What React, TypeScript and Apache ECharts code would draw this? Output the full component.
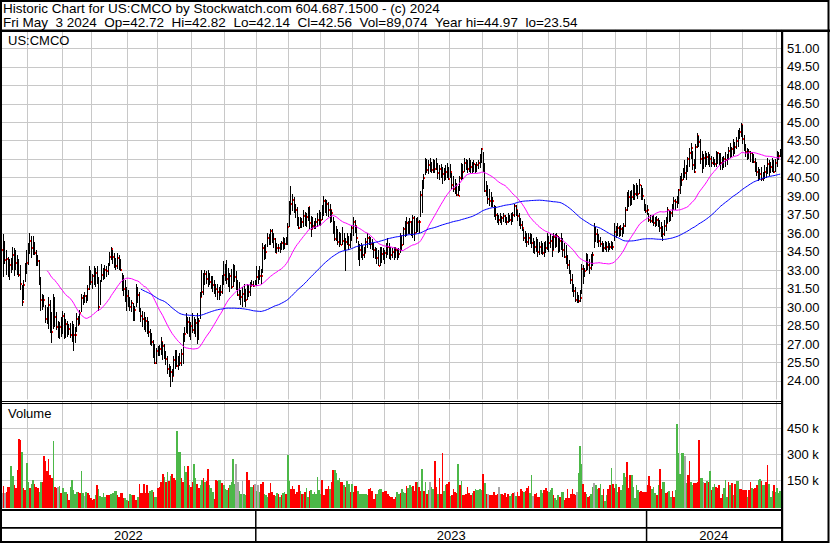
import React, { useEffect, useRef } from "react";
import * as echarts from "echarts";

// [high, low, close] per trading day
const bars2022: number[][] = [
[35.2,33.6,34.6],[35.9,32.4,34.8],[35.4,33.5,33.8],[34.6,32.6,33.9],[34.1,32.4,33.0],[33.9,32.2,33.4],[34.0,32.8,33.1],[34.9,33.0,34.2],[34.8,32.5,33.5],[34.6,33.0,33.6],
[34.2,32.6,33.4],[33.9,32.4,32.6],[33.4,31.4,31.9],[31.8,30.1,30.4],[32.2,30.6,31.8],[33.6,32.0,33.2],[34.6,32.7,33.6],[35.2,33.4,34.8],[36.0,34.3,35.4],[35.8,34.0,34.8],
[35.8,34.2,35.1],[35.3,34.2,34.4],[34.6,33.3,34.0],[34.2,33.3,33.7],[33.8,31.8,32.2],[32.4,29.7,30.6],[31.1,29.8,30.5],[31.0,30.0,30.6],[30.2,28.7,29.0],[30.0,28.6,28.7],
[30.8,28.2,30.2],[30.6,27.9,28.3],[29.6,27.1,28.0],[31.1,28.2,30.6],[30.8,28.4,29.2],[29.6,28.1,28.4],[28.9,27.5,28.6],[28.8,27.4,28.4],[29.2,27.6,28.0],[29.7,27.8,29.3],
[29.5,27.4,27.8],[29.0,27.5,28.6],[28.9,27.6,27.9],[28.6,27.7,28.2],[28.7,27.5,27.7],[28.9,27.2,28.5],[28.6,26.4,27.7],[28.4,27.1,27.7],[29.5,28.0,29.0],[29.3,28.5,28.6],
[29.8,28.6,29.5],[31.1,29.6,30.7],[31.0,30.2,30.6],[31.2,30.3,30.9],[31.0,30.3,30.6],[31.8,30.5,31.5],[33.3,31.4,32.8],[33.0,31.8,32.0],[32.7,31.5,32.5],[33.3,31.8,32.5],
[33.2,31.6,32.8],[33.3,31.9,32.3],[32.4,29.7,30.0],[32.2,30.2,32.1],[33.5,32.0,32.6],[33.2,32.2,32.4],[33.4,32.3,33.0],[33.3,32.4,32.9],[33.6,32.6,33.4],[34.5,33.3,34.1],
[34.9,33.8,34.7],[34.6,33.5,34.1],[34.4,33.2,33.5],[34.0,33.0,33.3],[34.4,33.1,34.0],[34.2,33.0,33.4],[33.9,32.9,33.0],[32.8,31.3,31.7],[32.6,30.9,31.5],[32.2,30.4,30.6],
[31.6,29.7,30.9],[31.4,30.0,30.6],[30.8,29.7,30.0],[30.6,29.6,30.3],[30.3,28.9,29.1],[30.1,28.9,29.8],[31.9,30.0,31.4],[31.6,30.3,31.0],[31.2,29.6,29.8],[29.9,28.8,29.3],
[29.7,28.4,29.0],[29.6,28.1,28.6],[29.2,28.0,28.9],[29.2,27.8,28.3],[28.9,27.6,28.0],[28.2,26.9,27.6],[27.9,26.8,27.2],[27.3,25.9,26.3],[27.0,25.4,25.5],[26.7,25.4,26.4],
[26.8,26.0,26.2],[26.9,26.0,26.6],[27.6,26.1,27.2],[27.2,25.7,26.8],[27.0,25.8,26.0],[26.4,25.3,25.8],[26.0,24.6,25.0],[25.4,24.3,24.9],[25.2,23.5,24.7],[25.0,23.9,24.4],
[26.0,24.4,25.7],[26.5,25.0,25.7],[26.5,25.1,25.2],[26.0,24.9,25.8],[26.3,25.2,25.5],[26.6,25.2,26.2],[27.9,25.4,27.6],[28.4,27.2,27.8],[29.5,27.9,28.3],[29.2,27.8,28.8],
[29.2,27.6,28.0],[28.8,27.3,28.5],[29.5,27.9,28.1],[29.2,27.8,28.1],[29.0,27.6,28.7],[29.5,27.0,28.0],[29.1,27.3,28.9],[31.2,29.0,30.8],[33.0,30.8,31.2],[32.8,31.0,32.4],
[33.0,31.8,32.7],[32.9,31.9,32.3],[33.0,31.6,32.5],[32.8,31.8,32.0],[32.5,31.5,32.2],[32.5,31.2,31.8],[32.2,31.1,31.3],[31.9,30.8,31.5],[31.9,30.6,31.2],[31.6,30.6,31.4],
[31.8,30.9,31.2],[32.6,31.1,32.2],[33.7,31.8,32.6],[33.5,32.1,33.0],[33.8,31.9,32.3],[33.2,31.6,32.0],[32.8,31.2,32.5],[33.1,31.5,31.6],[33.5,31.6,33.0],[33.4,32.0,32.4],
[32.9,31.4,31.8],[32.2,30.9,31.0],[32.0,30.6,30.8],[31.4,30.2,30.8],[31.6,30.0,31.1],[31.9,30.4,31.4],[31.5,30.0,30.6],[31.9,30.6,31.5],[31.8,30.8,31.2],[32.0,30.9,31.7],
[32.2,31.7,31.8],[32.1,31.6,31.7],[32.2,31.8,32.1]
];
const bars2023: number[][] = [
[33.3,31.7,32.4],[33.0,31.9,32.7],[33.3,32.2,32.5],[33.1,31.9,32.5],[35.2,32.8,34.8],[35.0,33.8,34.3],[35.1,33.9,34.5],[36.0,34.9,35.6],[35.9,35.0,35.3],[36.3,35.0,36.2],
[36.3,35.2,35.6],[36.0,34.8,35.5],[35.6,34.4,34.4],[35.2,34.4,34.8],[35.1,34.5,34.8],[35.2,34.4,35.0],[35.4,34.6,35.2],[35.7,34.6,34.9],[35.6,34.7,35.1],[35.7,35.0,35.6],
[36.8,35.0,36.5],[38.6,36.5,38.3],[39.8,37.5,38.4],[39.2,37.8,38.7],[38.9,37.6,38.0],[38.4,37.2,37.9],[38.1,36.6,37.2],[37.3,36.3,36.4],[37.3,36.4,37.0],[37.2,36.4,36.9],
[37.9,36.5,37.4],[37.7,36.6,37.2],[37.6,36.5,37.3],[38.1,37.0,38.1],[38.1,36.3,36.8],[37.4,35.7,36.3],[37.3,36.3,36.6],[37.0,36.3,36.6],[37.2,36.3,36.9],[37.6,36.5,37.1],
[37.9,36.7,37.4],[37.7,36.6,37.1],[38.3,37.1,37.9],[39.0,37.4,38.6],[38.8,37.6,38.2],[38.7,37.4,38.4],[38.5,37.3,37.9],[38.4,36.8,37.9],[37.9,36.9,37.6],[37.3,35.9,36.1],
[37.0,35.4,35.5],[36.6,35.4,36.2],[36.3,35.0,35.3],[36.1,34.9,35.6],[36.0,35.0,35.0],[36.5,35.0,35.4],[36.0,34.6,35.1],[35.6,32.9,35.3],[36.0,35.0,35.3],[35.8,34.6,35.0],
[36.0,34.8,35.7],[36.6,35.4,36.4],[37.3,35.8,36.9],[37.1,36.0,36.6],[36.6,35.2,35.6],[35.4,33.8,33.8],[35.1,33.3,34.6],[35.2,34.0,34.4],[35.0,33.8,34.2],[34.9,34.0,34.4],
[35.6,34.4,35.3],[36.0,34.8,35.6],[35.8,35.0,35.2],[35.7,34.7,35.1],[35.5,34.6,35.0],[35.2,34.0,34.6],[34.9,33.9,34.1],[34.8,33.5,34.0],[34.6,33.3,33.3],[34.9,33.3,34.4],
[34.9,33.6,34.3],[34.8,33.8,34.2],[34.6,33.5,34.4],[35.2,34.0,34.9],[35.6,34.2,34.9],[35.2,33.9,34.4],[34.9,33.8,34.2],[34.8,34.0,34.5],[34.9,33.8,34.1],[34.9,34.0,34.6],
[34.7,33.8,34.2],[34.8,34.0,34.3],[36.0,34.4,35.8],[35.8,34.6,35.0],[36.5,35.0,36.3],[37.0,35.7,36.4],[37.3,35.8,36.8],[37.0,35.9,36.3],[37.2,35.9,36.9],[37.0,35.8,36.4],
[37.5,35.6,37.2],[37.4,35.4,36.0],[37.2,36.0,37.0],[37.3,36.1,36.9],[37.1,36.0,36.9],[39.4,37.3,39.1],[40.3,37.6,40.2],[40.8,39.6,40.5],[42.1,40.7,41.2],[42.0,40.9,41.1],
[41.9,40.8,41.5],[42.1,41.0,41.3],[41.8,40.9,41.1],[42.0,40.9,41.6],[41.9,40.9,41.2],[42.1,41.1,41.3],[41.7,40.4,40.9],[41.5,40.3,41.2],[41.6,40.5,40.8],[41.4,40.0,40.8],
[41.3,40.2,40.5],[41.5,40.3,41.0],[41.7,40.5,40.6],[41.4,40.3,40.4],[41.6,40.5,41.0],[40.9,39.6,39.9],[40.6,39.3,39.6],[40.4,39.2,39.5],[40.1,39.0,39.1],[39.8,39.0,39.0],
[40.6,39.4,40.5],[41.7,40.3,41.3],[41.6,40.4,41.0],[42.1,41.0,41.7],[42.0,41.1,41.8],[41.9,40.9,41.2],[42.1,41.0,41.7],[41.9,40.9,41.4],[41.8,40.9,41.1],[41.9,41.0,41.6],
[41.6,40.9,41.3],[41.8,41.0,41.5],[41.9,41.2,41.7],[42.4,41.3,42.2],[42.9,41.7,42.8],[42.6,41.0,41.4],[41.7,39.3,39.4],[40.2,39.0,39.6],[39.9,38.4,38.8],[39.6,38.2,38.6],
[39.3,38.1,38.5],[38.9,38.1,38.6],[38.3,37.3,37.6],[38.2,37.1,37.5],[37.6,36.8,37.3],[37.5,36.7,37.1],[37.6,36.8,37.0],[37.4,36.7,37.2],[37.6,36.9,37.4],[37.5,36.8,37.0],
[37.3,36.7,36.9],[37.6,36.8,37.3],[37.5,36.9,37.1],[37.6,36.7,37.0],[37.7,36.9,37.5],[38.4,37.3,38.2],[38.3,37.4,37.9],[37.9,37.0,37.4],[37.6,36.6,36.9],[37.2,36.3,36.7],
[37.0,36.2,36.4],[36.3,35.4,35.6],[36.2,35.2,35.7],[36.0,34.9,35.3],[36.0,35.0,35.6],[36.0,35.1,35.7],[35.9,34.8,35.2],[35.6,34.4,34.9],[35.4,34.3,34.9],[35.7,34.5,35.2],
[35.5,34.1,34.5],[35.3,34.2,34.9],[35.4,34.3,34.8],[35.2,34.2,34.4],[35.3,34.1,35.0],[35.4,34.4,34.8],[36.0,34.6,35.6],[35.8,34.5,35.2],[35.9,34.8,35.4],[35.8,34.1,34.6],
[36.0,34.6,35.7],[35.9,34.8,35.4],[36.0,34.9,35.8],[35.8,34.4,34.9],[35.7,34.5,35.4],[36.0,34.6,35.2],[35.6,34.1,34.6],[35.2,34.0,34.1],[35.0,33.5,33.9],[34.2,33.1,33.4],
[33.8,32.7,32.8],[33.0,31.9,32.2],[32.7,31.2,31.5],[31.9,30.8,31.3],[31.6,30.4,30.6],[31.2,30.3,30.6],[31.0,30.3,30.5],[31.4,30.4,30.7],[33.5,31.1,33.1],[33.4,31.9,32.6],
[33.2,32.4,32.9],[34.4,32.9,33.8],[34.3,33.0,33.4],[33.9,32.7,33.2],[34.3,33.0,33.6],[34.5,33.3,34.2],[36.8,34.8,36.0],[36.5,35.3,35.9],[36.3,35.2,35.4],[35.9,34.9,35.4],
[35.7,34.9,35.1],[35.4,34.5,34.9],[35.2,34.5,34.8],[35.4,34.6,35.0],[35.3,34.5,34.9],[35.4,34.5,34.7],[35.2,34.6,34.9],[35.4,34.7,35.2],[35.3,34.6,34.9],[36.8,35.4,36.1],
[36.6,35.6,36.4],[36.8,35.8,36.4],[36.6,35.7,36.0],[36.7,35.8,36.3],[36.5,35.7,36.1],[36.8,35.9,36.6],[38.1,36.5,37.9],[39.3,37.8,38.6],[39.5,38.1,38.9],[39.4,38.2,39.0],
[39.5,38.3,38.9],[40.0,38.7,39.5],[39.9,38.7,39.2],[40.1,39.0,39.6],[39.9,38.8,39.2],[40.4,39.2,39.9],[39.9,38.7,39.5],[39.7,38.7,39.0],[38.8,37.8,38.2],[38.4,37.6,37.8]
];
const bars2024: number[][] = [
[38.3,37.5,37.9],[37.6,36.9,37.1],[37.5,36.8,37.0],[37.4,36.8,37.1],[37.5,36.6,36.8],[37.3,36.5,36.9],[37.4,36.6,37.1],[37.2,36.5,36.7],[37.1,36.1,36.4],[36.9,35.7,36.0],
[36.6,35.4,35.9],[37.1,35.8,36.6],[37.3,36.2,36.8],[38.1,36.8,37.9],[37.9,36.9,37.3],[37.8,37.0,37.6],[38.4,37.3,38.0],[38.9,37.9,38.6],[38.8,37.9,38.5],[39.0,38.0,38.7],
[39.6,38.4,39.5],[40.6,39.2,40.2],[40.9,39.8,40.3],[41.3,40.3,41.0],[41.9,40.5,40.9],[41.5,40.3,41.2],[42.2,41.0,42.0],[42.9,41.4,42.5],[43.3,42.0,42.9],[42.7,41.1,41.5],
[42.0,40.9,41.0],[43.2,41.2,43.0],[44.1,42.9,43.9],[43.9,43.0,43.4],[43.6,41.6,42.0],[42.7,40.9,41.9],[42.4,41.2,42.1],[42.7,41.4,41.8],[42.5,41.5,42.2],[42.6,41.5,41.9],
[42.4,41.4,42.0],[42.3,41.4,41.7],[42.2,41.5,41.9],[42.0,41.4,41.6],[42.7,41.4,41.8],[42.6,41.6,42.5],[42.5,41.5,41.9],[42.5,41.1,41.7],[42.2,41.1,41.5],[42.3,41.3,42.0],
[42.6,41.4,41.9],[42.4,41.5,42.1],[43.0,41.9,42.7],[43.3,42.1,42.6],[43.0,42.2,42.8],[43.6,42.3,43.3],[43.4,42.4,43.0],[43.8,42.8,43.5],[44.4,43.0,44.1],[44.5,43.6,44.2],
[44.97,43.8,44.8],[44.8,43.2,43.6],[44.0,42.7,43.0],[43.2,42.2,42.6],[42.9,41.9,42.4],[42.8,42.0,42.6],[42.7,41.8,42.5],[42.6,41.7,42.0],[42.4,41.7,41.8],[42.1,41.0,41.2],
[41.8,40.6,41.0],[41.4,40.2,40.6],[41.2,40.3,40.8],[41.4,40.2,40.4],[41.0,40.2,40.7],[41.5,40.4,41.0],[41.4,40.5,40.9],[42.1,40.8,41.6],[41.9,40.6,41.3],[41.8,40.9,41.4],
[42.1,41.0,41.5],[41.9,40.9,41.0],[42.0,41.0,41.7],[42.7,41.4,42.5],[42.6,41.9,42.3],[42.82,42.14,42.56]
];

// daily volume in thousands
const vol2022 = [75,119,75,80,113,113,229,177,123,104,207,386,382,315,108,95,248,140,108,127,152,
127,113,104,85,138,138,287,258,204,273,180,165,377,113,104,113,119,75,104,85,85,69,37,113,152,94,70,
81,85,75,204,75,60,85,75,65,46,37,42,65,123,100,60,56,79,52,65,65,65,69,79,88,88,65,56,75,75,46,50,
37,31,69,65,65,65,37,56,127,75,75,127,75,123,75,90,94,85,56,56,104,113,138,188,171,138,200,146,177,187,162,150,
435,315,315,162,138,229,200,229,123,113,142,244,165,127,108,120,152,165,138,146,215,123,108,85,42,152,
146,152,152,133,123,100,94,108,123,138,273,127,244,138,88,69,146,69,65,196,152,110,113,123,127];
const vol2023 = [90,123,85,127,137,71,65,56,79,133,85,65,60,75,69,56,65,75,80,70,296,146,100,
115,102,73,83,121,88,69,73,83,108,54,88,92,73,80,
73,169,92,69,150,63,102,102,117,102,140,208,208,192,150,
160,140,140,121,112,146,127,83,131,83,115,115,87,69,72,
69,69,69,63,100,108,88,44,73,73,92,98,102,83,90,
87,73,60,54,54,44,54,81,73,79,102,83,77,117,105,
121,112,115,88,140,140,112,88,217,88,140,73,92,140,110,
102,262,112,73,160,73,304,88,121,127,140,60,63,98,85,
79,246,121,146,67,67,73,112,79,63,79,88,102,92,95,
100,92,185,135,73,73,67,67,67,83,67,73,112,69,70,
67,77,54,73,60,69,79,83,60,83,60,98,88,83,90,
108,115,79,179,58,73,79,54,54,92,79,96,106,87,85,
92,
104,65,46,37,65,56,81,81,37,46,100,46,73,98,70,
65,85,194,348,244,127,85,69,56,62,71,113,135,123,100,
104,127,65,98,30,65,100,123,219,127,104,127,85,113,95,
123,194,171,254,104,181,181,113,46,123,94,85,88,85,80,
85];
const vol2024 = [123,175,119,98,113,75,65,123,215,98,138,138,79,85,90,
56,90,56,94,473,306,187,306,306,290,133,181,258,138,120,
133,133,138,383,162,165,138,133,146,138,204,94,113,127,110,
104,123,50,69,104,152,56,138,123,133,65,127,146,146,100,
98,94,94,94,56,94,138,108,100,108,123,152,158,146,120,
123,138,235,127,56,90,123,85,108,79,89];

// day direction: g = up, r = down, n = unchanged
const dir2022 = "nrnrrrggrr" + "rrrgr" + "r" + "ggrgg" + "rrrggrrrrr" + "r" + "rgrrngrggg" + "rrggg" + "g" +
  "grrgg" + "ngrrrrrgrg" + "g" + "gggrrrgggg" + "rrrrr" + "g" + "grggr" + "rrgrrrrrrr" + "g" + "grggrrrrgr" +
  "grgrr" + "r" + "gggrr" + "ggrgrrggrr" + "g" + "grgrrgggrr" + "rggrg" + "g" + "grggg" + "gnnggnggrr" + "g" + "grn";
const dir2023 = "gngrrgggrr" + "rrggrgrggr" + "ggr" +
  "rrrrrgrgrggrgg" + "g" + "ggggrrrrrgrrgg" + "g" + "grrgrggrgrrrgg" + "g" + "ggggrrrrrggggr" + "r" +
  "rrrrrrrggrgggr" + "g" + "ggrrrgrrgrgrgn" + "g" + "grrgrrrggrrgrr" + "r" + "rgrgrrrrrrgrgg" + "g" +
  "ggrgrnrrrrrrng" + "r" + "rrrrggrngrrrrg" + "r" + "rrggnrrrrggrrr" + "g" + "g" +
  "grgggrggrrrrrr" + "r" + "rngggrrgrrggng" + "g" + "rggrggrrgrrggr" + "g" + "gggrrrgggggrrr" + "r" + "r";
const dir2024 = "rrrgggrgrrggrr" + "g" + "grrggggggngrrg" + "g" + "rrrrggnrgrgrgg" + "r" + "rrrrgggrgrgrgg" + "r" +
  "rrrrgrrgrrrggr" + "g" + "grrgg" + "g" + "rggg" + "g";

// bar index where each month begins (vertical grid lines)
const monthStarts = [17, 39, 58, 81, 100, 122, 143, 163, 184, 204, 225, 245, 267, 287, 308, 330, 350, 372, 393, 413, 434, 454, 474, 496];
const yearStarts = [0, 163, 413];
const yearLabels = ["2022", "2023", "2024"];
const maShortDays = 30;
const maLongDays = 90;

const titleLine1 = "Historic Chart for US:CMCO by Stockwatch.com 604.687.1500 - (c) 2024";
const titleLine2 = "Fri May  3 2024  Op=42.72  Hi=42.82  Lo=42.14  Cl=42.56  Vol=89,074  Year hi=44.97  lo=23.54";
const symbolLabel = "US:CMCO";
const volumeLabel = "Volume";

const FONT = "'Liberation Sans', Arial, sans-serif";

export default function App() {
  const ref = useRef<HTMLDivElement>(null);
  useEffect(() => {
    const chart = echarts.init(ref.current!, null, { renderer: "svg" });
    const bars = [...bars2022, ...bars2023, ...bars2024];
    const vols = [...vol2022, ...vol2023, ...vol2024];
    const dirs = (dir2022 + dir2023 + dir2024).split("");
    const N = bars.length;
    const cats = bars.map((_, i) => String(i));
    const closes = bars.map((b) => b[2]);
    const sma = (n: number) =>
      closes.map((_, i) => {
        if (i < n - 1) return null;
        let s = 0;
        for (let k = i - n + 1; k <= i; k++) s += closes[k];
        return +(s / n).toFixed(3);
      });
    const monthSet = new Set(monthStarts);
    const ohlcData = bars.map((b, i) => [i, b[0], b[1], b[2]]);
    const volData = vols.map((v, i) => [i, v, dirs[i] === "g" ? 1 : dirs[i] === "r" ? -1 : 0]);

    const xAxisBase = (gridIndex: number) => ({
      type: "category",
      gridIndex,
      data: cats,
      boundaryGap: true,
      axisLine: { show: false },
      axisTick: { show: false, interval: (i: number) => monthSet.has(i) },
      axisLabel: { show: false },
      splitLine: {
        show: true,
        interval: (i: number) => monthSet.has(i),
        lineStyle: { color: "#c8c8c8", width: 1 },
      },
    });

    const option: any = {
      animation: false,
      backgroundColor: "#ffffff",
      grid: [
        { left: 1, right: 49, top: 29.82, height: 369.66, containLabel: false, outerBoundsMode: "none" },
        { left: 1, right: 49, top: 402, height: 104.3, containLabel: false, outerBoundsMode: "none" },
      ],
      xAxis: [xAxisBase(0), xAxisBase(1)],
      yAxis: [
        {
          type: "value",
          gridIndex: 0,
          position: "right",
          min: 22.5,
          max: 52.5,
          interval: 1.5,
          axisLine: { show: false },
          axisTick: { show: false },
          axisLabel: {
            formatter: (v: number) => v.toFixed(2),
            color: "#000",
            fontSize: 13,
            fontFamily: FONT,
            margin: 6,
            showMinLabel: false,
            showMaxLabel: false,
          },
          splitLine: { show: true, showMinLine: false, showMaxLine: false, lineStyle: { color: "#c8c8c8", width: 1 } },
        },
        {
          type: "value",
          gridIndex: 1,
          position: "right",
          min: 0,
          max: 600,
          interval: 150,
          axisLine: { show: false },
          axisTick: { show: false },
          axisLabel: {
            formatter: (v: number) => v + " k",
            color: "#000",
            fontSize: 13,
            fontFamily: FONT,
            margin: 6,
            showMinLabel: false,
            showMaxLabel: false,
          },
          splitLine: { show: true, showMinLine: false, showMaxLine: false, lineStyle: { color: "#c8c8c8", width: 1 } },
        },
      ],
      series: [
        {
          type: "custom",
          name: "Price",
          xAxisIndex: 0,
          yAxisIndex: 0,
          z: 2,
          data: ohlcData,
          encode: { x: 0, y: [1, 2, 3] },
          renderItem: (params: any, api: any) => {
            const i = api.value(0);
            const top = api.coord([i, api.value(1)]);
            const bot = api.coord([i, api.value(2)]);
            const cl = api.coord([i, api.value(3)]);
            const bx = Math.round(top[0] - 0.5);
            const yt = Math.round(top[1]);
            const yb = Math.round(bot[1]);
            const yc = Math.round(cl[1]);
            return {
              type: "group",
              children: [
                { type: "rect", shape: { x: bx, y: yt, width: 1, height: Math.max(1, yb - yt) }, style: { fill: "#000" } },
                { type: "rect", shape: { x: bx + 1, y: yc - 1, width: 1, height: 2 }, style: { fill: "#ff0000" } },
              ],
            };
          },
        },
        {
          type: "line",
          name: "MA30",
          xAxisIndex: 0,
          yAxisIndex: 0,
          data: sma(maShortDays),
          symbol: "none",
          z: 3,
          lineStyle: { color: "#ff00ff", width: 1 },
        },
        {
          type: "line",
          name: "MA90",
          xAxisIndex: 0,
          yAxisIndex: 0,
          data: sma(maLongDays),
          symbol: "none",
          z: 3,
          lineStyle: { color: "#0000ff", width: 1 },
        },
        {
          type: "custom",
          name: "Volume",
          xAxisIndex: 1,
          yAxisIndex: 1,
          data: volData,
          encode: { x: 0, y: 1 },
          renderItem: (params: any, api: any) => {
            const i = api.value(0);
            const p = api.coord([i, api.value(1)]);
            const b = api.coord([i, 0]);
            const w = api.size([1, 0])[0];
            const d = api.value(2);
            const xl = Math.round(p[0] - w / 2);
            const xr = Math.max(xl + 1, Math.round(p[0] + w / 2));
            const yt = Math.round(p[1]);
            return {
              type: "rect",
              shape: { x: xl, y: yt, width: xr - xl, height: Math.round(b[1]) + 2 - yt },
              style: { fill: d > 0 ? "#4cb848" : d < 0 ? "#ff0000" : "#a8a8a8" },
            };
          },
        },
      ],
    };
    chart.setOption(option);

    const band = 780 / N;
    const leftOf = (i: number) => (chart.convertToPixel({ xAxisIndex: 0 }, i) as number) - band / 2;
    const rightEdge = 781;
    const ends = [...yearStarts.slice(1).map(leftOf), rightEdge];
    const g: any[] = [];
    g.push({ type: "rect", z: 100, shape: { x: 0, y: 29.5, width: 830, height: 2.6 }, style: { fill: "#000" } });
    g.push({ type: "rect", z: 100, shape: { x: 781, y: 30, width: 2.2, height: 513 }, style: { fill: "#000" } });
    g.push({ type: "rect", z: 100, shape: { x: 0, y: 401, width: 781, height: 1 }, style: { fill: "#000" } });
    g.push({ type: "rect", z: 100, shape: { x: 0, y: 403, width: 781, height: 1 }, style: { fill: "#000" } });
    g.push({ type: "rect", z: 100, shape: { x: 0, y: 509, width: 781, height: 2 }, style: { fill: "#000" } });
    g.push({ type: "rect", z: 100, shape: { x: 0, y: 527, width: 781, height: 1.8 }, style: { fill: "#000" } });
    g.push({ type: "rect", z: 101, shape: { x: 1, y: 1, width: 827.5, height: 541 }, style: { fill: "none", stroke: "#000", lineWidth: 2 } });
    yearStarts.forEach((s, k) => {
      const x0 = k === 0 ? 1 : leftOf(s);
      const x1 = ends[k];
      if (k > 0) {
        g.push({ type: "rect", z: 100, shape: { x: x0 - 0.75, y: 511, width: 1.5, height: 31 }, style: { fill: "#000" } });
      }
      g.push({
        type: "text",
        z: 100,
        style: { text: yearLabels[k], x: (x0 + x1) / 2, y: 535.5, font: `13px ${FONT}`, fill: "#000", textAlign: "center", textVerticalAlign: "middle" },
      });
    });
    g.push({ type: "text", z: 100, style: { text: titleLine1, x: 3, y: 8, font: `13.5px ${FONT}`, fill: "#000", textVerticalAlign: "middle" } });
    g.push({ type: "text", z: 100, style: { text: titleLine2, x: 3, y: 22, font: `13.5px ${FONT}`, fill: "#000", textVerticalAlign: "middle" } });
    g.push({ type: "text", z: 100, style: { text: symbolLabel, x: 8, y: 40.5, font: `13px ${FONT}`, fill: "#000", textVerticalAlign: "middle" } });
    g.push({ type: "text", z: 100, style: { text: volumeLabel, x: 8, y: 413.5, font: `13px ${FONT}`, fill: "#000", textVerticalAlign: "middle" } });
    chart.setOption({ graphic: g });

    return () => chart.dispose();
  }, []);
  return <div ref={ref} style={{ position: "absolute", left: 0, top: 0, width: 830, height: 543 }} />;
}
